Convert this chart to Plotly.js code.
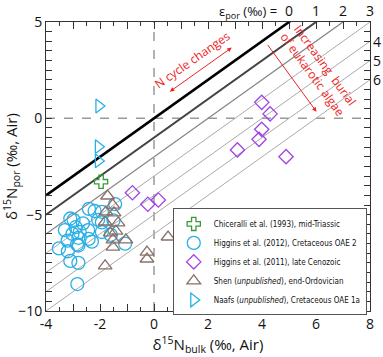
<!DOCTYPE html>
<html><head><meta charset="utf-8">
<script src="https://cdn.plot.ly/plotly-3.0.1.min.js"></script>
<style>html,body{margin:0;padding:0;background:#fff}#c{width:383px;height:357px}</style>
</head><body><div id="c"></div>
<script>
// epsilon_por isolines
const epsVals = [0, 1, 2, 3, 4, 5, 6];
const epsColors = ['#000000', '#444444', '#888888', '#aaaaaa', '#aaaaaa', '#aaaaaa', '#aaaaaa'];
const epsWidths = [2.6, 2, 1.3, 1, 1, 1, 1];
const epsTopLabels = ['0', '1', '2', '3'];
const epsRightLabels = ['4', '5', '6'];

// Chiceralli et al. (1993)
const chicX = [-1.96];
const chicY = [-3.29];
// Higgins et al. (2012)
const hig12X = [-2.41, -2.2, -1.93, -1.44, -3.1, -2.98, -2.63, -3.3, -2.9, -2.44, -3.02, -2.8, -2.42, -3.2, -2.8, -2.3, -3.52, -3.19, -2.85, -3.1, -2.8, -2.84, -1.93, -1.93, -1.5, -1.07, -1.6, -2.07, -2.75];
const hig12Y = [-4.7, -4.81, -4.85, -4.45, -5.2, -5.27, -5.45, -5.8, -5.65, -5.8, -6.0, -6.2, -6.26, -6.35, -6.6, -6.4, -6.75, -6.9, -6.55, -7.4, -7.5, -8.6, -5.4, -5.9, -5.3, -6.5, -6.05, -5.27, -5.9];
// Higgins et al. (2011)
const hig11X = [3.99, 4.3, 3.99, 3.89, 3.09, 4.89, -0.8, -0.23, 0.16];
const hig11Y = [0.83, 0.23, -0.57, -1.09, -1.64, -1.99, -3.86, -4.46, -4.24];
// Shen (unpublished)
const shenX = [-1.72, -1.53, -1.78, -1.48, -1.81, -1.33, -1.41, -1.52, -1.04, -1.52, -1.81, -0.26, -0.26, 0.52, -1.62];
const shenY = [-4.03, -4.5, -4.86, -4.91, -5.38, -5.43, -5.85, -6.31, -6.31, -6.68, -7.66, -6.94, -7.3, -6.16, -5.95];
// Naafs (unpublished)
const naafsX = [-2.04, -2.06, -2.06];
const naafsY = [0.64, -1.47, -2.21];

const xTickVals = [-4, -3, -2, -1, 0, 1, 2, 3, 4, 5, 6, 7, 8];
const xTickText = ['-4', '', '-2', '', '0', '', '2', '', '4', '', '6', '', '8'];
const yTickVals = [-10, -5, 0, 5];
const xRange = [-4, 8];
const yRange = [-10, 5];

const FONT = 'Open Sans, Noto Sans, sans-serif';
const NARROW = 'Liberation Sans Narrow, DejaVu Sans Condensed, Roboto, sans-serif';
const traces = [];
epsVals.forEach((e, i) => {
  traces.push({x: xRange.slice(), y: xRange.map(v => v - e), mode: 'lines', type: 'scatter',
    line: {color: epsColors[i], width: epsWidths[i]}, showlegend: false, hoverinfo: 'skip'});
});
traces.push({x: chicX, y: chicY, mode: 'markers', type: 'scatter', name: 'Chiceralli et al. (1993), mid-Triassic',
  marker: {symbol: 'cross-open', size: 11, color: '#3a9a3a', line: {width: 1.3, color: '#3a9a3a'}}});
traces.push({x: hig12X, y: hig12Y, mode: 'markers', type: 'scatter', name: 'Higgins et al. (2012), Cretaceous OAE 2',
  marker: {symbol: 'circle-open', size: 13, color: '#29b0e6', line: {width: 1.3, color: '#29b0e6'}}});
traces.push({x: hig11X, y: hig11Y, mode: 'markers', type: 'scatter', name: 'Higgins et al. (2011), late Cenozoic',
  marker: {symbol: 'diamond-open', size: 11, color: '#a044e6', line: {width: 1.3, color: '#a044e6'}}});
traces.push({x: shenX, y: shenY, mode: 'markers', type: 'scatter', name: 'Shen (<i>unpublished</i>), end-Ordovician',
  marker: {symbol: 'triangle-up-open', size: 12, color: '#8a7068', line: {width: 1.3, color: '#8a7068'}}});
traces.push({x: naafsX, y: naafsY, mode: 'markers', type: 'scatter', name: 'Naafs (<i>unpublished</i>), Cretaceous OAE 1a',
  marker: {symbol: 'triangle-right-open', size: 12, color: '#29b0e6', line: {width: 1.3, color: '#29b0e6'}}});

const annotations = [];
epsTopLabels.forEach((t, i) => {
  annotations.push({x: 5 + i, y: 1, xref: 'x', yref: 'paper', yanchor: 'bottom', yshift: 0, text: t, showarrow: false,
    font: {size: 14, color: '#111', family: FONT}});
});
epsRightLabels.forEach((t, i) => {
  annotations.push({x: 1, y: 4 - i, xref: 'paper', yref: 'y', xanchor: 'left', xshift: 1, text: t, showarrow: false,
    font: {size: 14, color: '#111', family: FONT}});
});
annotations.push({x: 5, y: 1, xref: 'x', yref: 'paper', xanchor: 'right', yanchor: 'bottom', xshift: -10, yshift: -2,
  text: 'ε<sub>por</sub> (‰) =', showarrow: false, font: {size: 13, color: '#111', family: FONT}});
// N cycle changes arrow
annotations.push({x: 2.88, y: 3.67, ax: 0.53, ay: 1.33, xref: 'x', yref: 'y', axref: 'x', ayref: 'y', text: '',
  showarrow: true, arrowhead: 2, startarrowhead: 2, arrowside: 'end+start', arrowsize: 0.9, startarrowsize: 0.9, arrowwidth: 1, arrowcolor: '#ee2222'});
annotations.push({x: 1.44, y: 3.03, xref: 'x', yref: 'y', text: 'N cycle changes', showarrow: false, textangle: -35,
  font: {size: 12, color: '#ee2222', family: FONT}});
// burial arrow
annotations.push({x: 6.02, y: 0.34, ax: 4.17, ay: 3.89, xref: 'x', yref: 'y', axref: 'x', ayref: 'y', text: '',
  showarrow: true, arrowhead: 2, arrowsize: 0.9, arrowwidth: 1, arrowcolor: '#ee2222'});
annotations.push({x: 6.12, y: 2.5, xref: 'x', yref: 'y', text: 'Increasing  burial<br>of eukarotic algae', showarrow: false, textangle: 54,
  font: {size: 12, color: '#ee2222', family: FONT}});

const layout = {
  width: 383, height: 357,
  margin: {l: 46, r: 13, t: 22, b: 46, autoexpand: false},
  paper_bgcolor: '#fff', plot_bgcolor: '#fff',
  font: {family: FONT, color: '#111'},
  showlegend: true,
  legend: {x: 0.99, y: 0.355, xanchor: 'right', yanchor: 'top', bgcolor: '#fff', bordercolor: '#555', borderwidth: 1,
    font: {size: 8, family: NARROW, color: '#111'}, tracegroupgap: 0, itemwidth: 30},
  xaxis: {range: xRange, tickmode: 'array', tickvals: xTickVals, ticktext: xTickText, ticks: 'inside', ticklen: 7,
    tickcolor: '#333', showgrid: false, zeroline: false, showline: true, linecolor: '#333', linewidth: 1, mirror: 'allticks',
    minor: {dtick: 0.5, ticks: 'inside', ticklen: 4, tickcolor: '#333', showgrid: false},
    tickfont: {size: 14, family: FONT}, title: {text: 'δ<sup>15</sup>N<sub>bulk</sub> (‰, Air)', font: {size: 15, family: FONT}, standoff: 4}},
  yaxis: {range: yRange, tickmode: 'array', tickvals: yTickVals, ticks: 'inside', ticklen: 6,
    tickcolor: '#333', showgrid: false, zeroline: false, showline: true, linecolor: '#333', linewidth: 1, mirror: 'allticks',
    minor: {dtick: 0.5, ticks: 'inside', ticklen: 6, tickcolor: '#333', showgrid: false},
    tickfont: {size: 14, family: FONT}, title: {text: 'δ<sup>15</sup>N<sub>por</sub> (‰, Air)', font: {size: 15, family: FONT}, standoff: 2}},
  shapes: [
    {type: 'line', xref: 'x', yref: 'paper', x0: 0, x1: 0, y0: 0, y1: 1, line: {color: '#999', width: 1.5, dash: 'dash'}, layer: 'below'},
    {type: 'line', xref: 'paper', yref: 'y', x0: 0, x1: 1, y0: 0, y1: 0, line: {color: '#999', width: 1.5, dash: 'dash'}, layer: 'below'}
  ],
  annotations: annotations
};
Plotly.newPlot('c', traces, layout, {displayModeBar: false, staticPlot: true});
</script></body></html>
